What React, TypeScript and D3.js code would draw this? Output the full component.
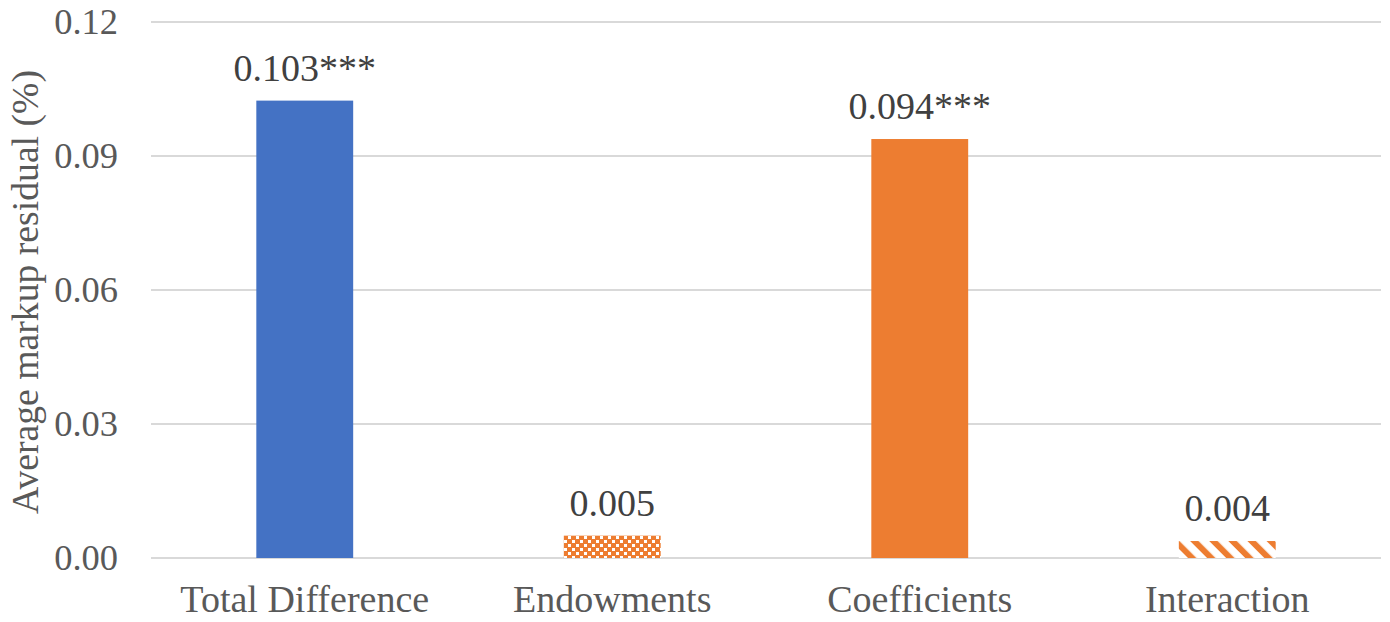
import React from "react";
import * as d3 from "d3";

const categories = ["Total Difference", "Endowments", "Coefficients", "Interaction"];
const values = [0.1024, 0.005, 0.0938, 0.0038];
const labels = ["0.103***", "0.005", "0.094***", "0.004"];
const fills = ["#4472C4", "url(#checkOrange)", "#ED7D31", "url(#stripeOrange)"];
const yTicks = [0, 0.03, 0.06, 0.09, 0.12];
const yTitle = "Average markup residual (%)";

const W = 1390;
const H = 622;
const plotLeft = 151;
const plotRight = 1381;
const plotTop = 22;
const plotBottom = 558;
const font = "Liberation Serif, Times New Roman, DejaVu Serif, serif";

export default function App() {
  const x = d3
    .scaleBand<string>()
    .domain(categories)
    .range([plotLeft, plotRight])
    .paddingInner(0.685)
    .paddingOuter(0.3425);
  const y = d3.scaleLinear().domain([0, 0.12]).range([plotBottom, plotTop]);
  const fmt = d3.format(".2f");
  const ts = { fontFamily: font };

  return (
    <svg
      width={W}
      height={H}
      style={{ position: "absolute", left: 0, top: 0, background: "#fff", fontFamily: font }}
    >
      <defs>
        <pattern id="checkOrange" width={8} height={8} patternUnits="userSpaceOnUse">
          <rect width={8} height={8} fill="#ED7D31" />
          <rect x={0} y={0} width={3} height={3} fill="#fff" />
          <rect x={4} y={4} width={3} height={3} fill="#fff" />
        </pattern>
        <pattern
          id="stripeOrange"
          width={13.5}
          height={13.5}
          patternUnits="userSpaceOnUse"
          patternTransform="rotate(-45)"
        >
          <rect width={13.5} height={13.5} fill="#fff" />
          <rect x={0} y={0} width={6} height={13.5} fill="#ED7D31" />
        </pattern>
      </defs>
      <rect width={W} height={H} fill="#fff" />
      {yTicks.map((t) => (
        <g key={t}>
          <line
            x1={plotLeft}
            x2={plotRight}
            y1={y(t)}
            y2={y(t)}
            stroke="#D9D9D9"
            strokeWidth={1.8}
          />
          <text
            x={118}
            y={y(t)}
            dy="0.34em"
            textAnchor="end"
            fontSize={36.5}
            fill="#595959"
            style={ts}
          >
            {fmt(t)}
          </text>
        </g>
      ))}
      {categories.map((c, i) => (
        <g key={c}>
          <rect
            x={x(c)}
            y={y(values[i])}
            width={x.bandwidth()}
            height={y(0) - y(values[i])}
            fill={fills[i]}
          />
          <text
            x={(x(c) as number) + x.bandwidth() / 2}
            y={y(values[i]) - 20}
            textAnchor="middle"
            fontSize={38}
            fill="#404040"
            style={ts}
          >
            {labels[i]}
          </text>
          <text
            x={(x(c) as number) + x.bandwidth() / 2}
            y={612}
            textAnchor="middle"
            fontSize={38}
            fill="#595959"
            style={ts}
          >
            {c}
          </text>
        </g>
      ))}
      <text
        transform={`translate(38, ${(plotTop + plotBottom) / 2 + 2}) rotate(-90)`}
        textAnchor="middle"
        fontSize={37.7}
        fill="#595959"
        style={ts}
      >
        {yTitle}
      </text>
    </svg>
  );
}
